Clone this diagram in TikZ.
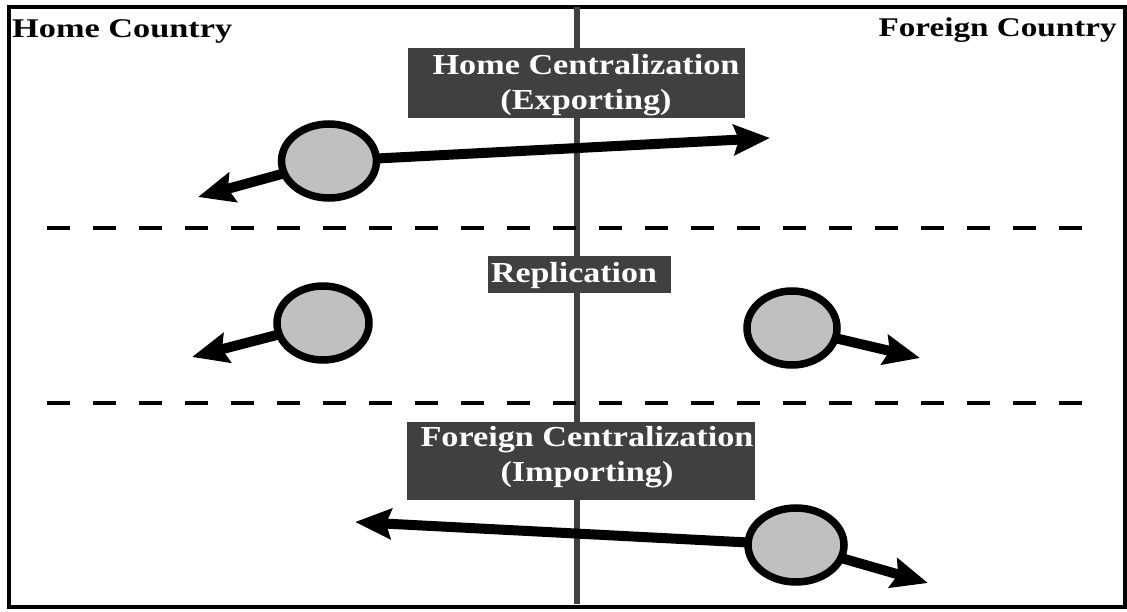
\documentclass[tikz,border=0pt]{standalone}
\usepackage{fontspec}
\setmainfont{Liberation Serif}
\usetikzlibrary{arrows.meta,shapes.geometric}
\definecolor{boxgray}{HTML}{404040}
\definecolor{blobgray}{HTML}{C0C0C0}
% horizontally widened text
\newcommand\widened[2]{\scalebox{#1}[1]{#2}}
\begin{document}
\begin{tikzpicture}[x=1pt,y=-1pt,
  blob/.style={ellipse, draw=black, fill=blobgray, line width=7.5pt, inner sep=0pt},
  flow/.style={line width=10pt, -{Stealth[length=36pt,width=30pt,inset=5pt]}, shorten <=-3pt},
  divider/.style={line width=3.2pt, dash pattern=on 23pt off 23pt},
  border/.style={line width=6pt, draw=boxgray},
  labelbox/.style={fill=boxgray, inner sep=0pt},
  boxtext/.style={text=white, font=\fontsize{29}{35}\selectfont\bfseries, inner sep=0pt},
  corner/.style={font=\fontsize{27}{31}\selectfont\bfseries, inner sep=0pt}]
\useasboundingbox (0,0) rectangle (1127,612);

% outer frame
\draw[line width=4pt] (9,7) rectangle (1125,607);

% border between the two countries
\coordinate (btop) at (577,7);
\coordinate (bbot) at (577,604);
\draw[border] (btop) -- (bbot);

% section separators
\coordinate (d1a) at (47,228);
\coordinate (d1b) at (1085,228);
\coordinate (d2a) at (47,403);
\coordinate (d2b) at (1085,403);
\draw[divider] (d1a) -- (d1b);
\draw[divider] (d2a) -- (d2b);

% country headings
\node[corner, anchor=base west] (home) at (12,38) {\widened{1.27}{Home Country}};
\node[corner, anchor=base east] (foreign) at (1117,37) {\widened{1.23}{Foreign Country}};

% section labels
\node[labelbox, minimum width=337pt, minimum height=70pt] (hcbox) at (576.5,83) {};
\node[boxtext] (hclabel) at (586,85.5)
  {\widened{1.18}{\begin{tabular}{@{}c@{}}Home Centralization\\(Exporting)\end{tabular}}};

\node[labelbox, minimum width=183pt, minimum height=37pt] (repbox) at (579.5,274.5) {};
\node[boxtext, anchor=base] (replabel) at (574,283) {\widened{1.17}{Replication}};

\node[labelbox, minimum width=348pt, minimum height=78pt] (fcbox) at (581,461) {};
\node[boxtext] (fclabel) at (587,457)
  {\widened{1.18}{\begin{tabular}{@{}c@{}}Foreign Centralization\\(Importing)\end{tabular}}};

% activities
\node[blob, minimum width=95pt, minimum height=74pt] (e1) at (329,161) {};
\node[blob, minimum width=92pt, minimum height=74pt] (e2) at (323,323) {};
\node[blob, minimum width=90pt, minimum height=74pt] (e3) at (792,328) {};
\node[blob, minimum width=96pt, minimum height=74pt] (e4) at (796,545) {};

% flow end points
\coordinate (t1a) at (770,138);
\coordinate (t1b) at (198,197);
\coordinate (t2) at (192,357);
\coordinate (t3) at (920,358);
\coordinate (t4a) at (355,522);
\coordinate (t4b) at (928,583);

\draw[flow] (e1) -- (t1a);
\draw[flow] (e1) -- (t1b);
\draw[flow] (e2) -- (t2);
\draw[flow] (e3) -- (t3);
\draw[flow] (e4) -- (t4a);
\draw[flow] (e4) -- (t4b);
\end{tikzpicture}
\end{document}
